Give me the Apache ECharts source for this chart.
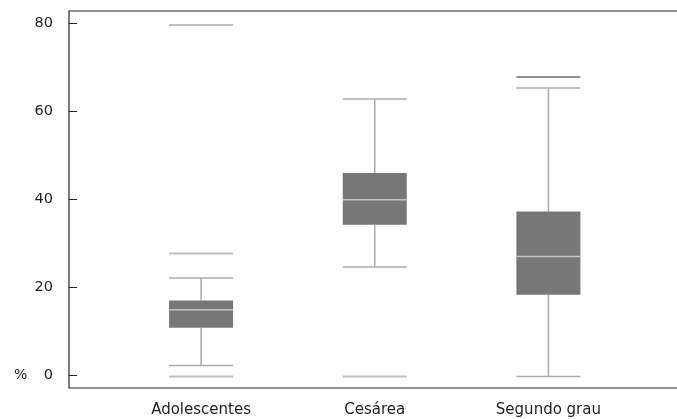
<!DOCTYPE html>
<html><head><meta charset="utf-8">
<script src="https://cdn.jsdelivr.net/npm/echarts@6/dist/echarts.min.js"></script>
<style>html,body{margin:0;padding:0;background:#fff}#c{width:677px;height:419px}</style>
</head><body><div id="c"></div>
<script>
const categories = ['Adolescentes', 'Cesárea', 'Segundo grau'];
// [lower whisker, Q1, median, Q3, upper whisker]
const boxValues = [
  [2.1, 10.7, 14.8, 16.9, 22.0],
  [24.5, 34.1, 39.8, 45.9, 62.7],
  [-0.4, 18.2, 26.9, 37.1, 65.2]
];
// outlier lines: [category index, value]
const outliers = [
  [0, 79.5], [0, 27.6], [0, -0.4],
  [1, -0.4],
  [2, 67.7]
];
const yTicks = [0, 20, 40, 60, 80];

const font = 'DejaVu Sans';
const BOXW = 64;
const chart = echarts.init(document.getElementById('c'), null, {renderer: 'canvas'});

function renderBox(params, api) {
  const x = api.value(0);
  const lo = api.coord([x, api.value(1)]);
  const q1 = api.coord([x, api.value(2)]);
  const md = api.coord([x, api.value(3)]);
  const q3 = api.coord([x, api.value(4)]);
  const hi = api.coord([x, api.value(5)]);
  const cx = lo[0], h = BOXW / 2;
  const wStyle = {stroke: '#ababab', lineWidth: 1.5, fill: null};
  return {
    type: 'group',
    children: [
      {type: 'line', shape: {x1: cx, y1: hi[1], x2: cx, y2: q3[1]}, style: wStyle},
      {type: 'line', shape: {x1: cx, y1: q1[1], x2: cx, y2: lo[1]}, style: wStyle},
      {type: 'line', shape: {x1: cx - h, y1: hi[1], x2: cx + h, y2: hi[1]}, style: wStyle},
      {type: 'line', shape: {x1: cx - h, y1: lo[1], x2: cx + h, y2: lo[1]}, style: wStyle},
      {type: 'rect', shape: {x: cx - h, y: q3[1], width: BOXW, height: q1[1] - q3[1]}, style: {fill: '#777777'}},
      {type: 'line', shape: {x1: cx - h, y1: md[1], x2: cx + h, y2: md[1]}, style: {stroke: '#c4c4c4', lineWidth: 1.5}}
    ]
  };
}

chart.setOption({
  animation: false,
  backgroundColor: '#fff',
  title: {text: '%', left: 9, top: 363, textStyle: {fontFamily: font, fontSize: 14, fontWeight: 'normal', color: '#222'}},
  grid: [
    {left: 69, top: 11, right: -3, bottom: 31, outerBoundsMode: 'none', containLabel: false, show: true, borderColor: '#222', borderWidth: 1.2, backgroundColor: 'transparent'},
    {left: 114.25, top: 11, right: 41.75, bottom: 31, outerBoundsMode: 'none', containLabel: false}
  ],
  xAxis: [
    {gridIndex: 0, type: 'value', show: false, min: 0, max: 1},
    {gridIndex: 1, type: 'category', data: categories, boundaryGap: true,
     axisLine: {show: false}, axisTick: {show: false},
     axisLabel: {margin: 15, fontFamily: font, fontSize: 15, color: '#222'}}
  ],
  yAxis: [
    {gridIndex: 0, type: 'value', min: -3, max: 82.7,
     axisLine: {show: false},
     axisTick: {show: true, inside: true, length: 8, customValues: yTicks, lineStyle: {color: '#222'}},
     axisLabel: {customValues: yTicks, margin: 16, fontFamily: font, fontSize: 14.5, color: '#222'},
     splitLine: {show: false}},
    {gridIndex: 1, type: 'value', min: -3, max: 82.7, show: false, splitLine: {show: false}}
  ],
  series: [
    {type: 'custom', xAxisIndex: 1, yAxisIndex: 1,
     data: boxValues.map((b, i) => [i].concat(b)),
     encode: {x: 0, y: [1, 2, 3, 4, 5]},
     renderItem: renderBox},
    {type: 'scatter', xAxisIndex: 1, yAxisIndex: 1, symbol: 'rect', symbolSize: [BOXW, 2],
     data: outliers.map(p => ({value: p, itemStyle: {color: p[1] > 66 && p[0] === 2 ? '#777' : '#b0b0b0'}}))}
  ]
});
</script></body></html>
